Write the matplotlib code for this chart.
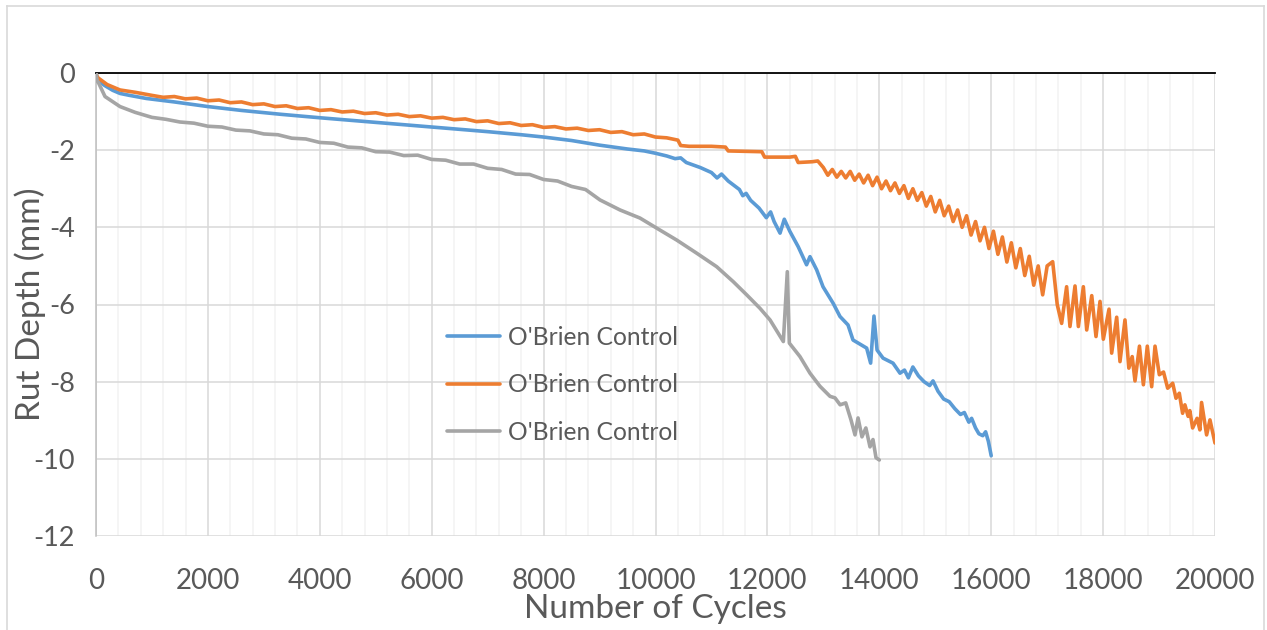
import matplotlib
matplotlib.use("Agg")
import matplotlib.pyplot as plt
from matplotlib.lines import Line2D
from matplotlib.ticker import MultipleLocator

plt.rcParams['font.family'] = ['Lato', 'DejaVu Sans']
plt.rcParams['axes.unicode_minus'] = False

series_labels = ["O'Brien Control", "O'Brien Control", "O'Brien Control"]
series_colors = ["#5B9BD5", "#ED7D31", "#A5A5A5"]

blue_cycles = [0, 20, 50, 150, 300, 430, 600, 900, 1400, 2000, 2600, 3300, 4000, 5000,
               6000, 7000, 7600, 8000, 8500, 9000, 9500, 9800, 10000, 10200, 10350,
               10450, 10550, 10800, 11000, 11100, 11180, 11300, 11500, 11560, 11620,
               11700, 11850, 11980, 12057, 12120, 12226, 12302, 12400, 12550, 12700,
               12761, 12880, 12994, 13176, 13297, 13441, 13530, 13774, 13845, 13905,
               13960, 14067, 14245, 14370, 14450, 14520, 14600, 14700, 14800, 14900,
               14960, 15050, 15150, 15250, 15350, 15450, 15520, 15600, 15650, 15720,
               15780, 15850, 15900, 15950, 16000]
blue_rut = [0, -0.12, -0.2, -0.32, -0.45, -0.53, -0.58, -0.66, -0.75, -0.87, -0.97,
            -1.07, -1.16, -1.28, -1.40, -1.52, -1.60, -1.66, -1.75, -1.87, -1.97,
            -2.02, -2.08, -2.15, -2.22, -2.20, -2.32, -2.45, -2.58, -2.72, -2.62,
            -2.80, -3.02, -3.18, -3.12, -3.30, -3.50, -3.75, -3.60, -3.85, -4.15,
            -3.79, -4.10, -4.50, -4.97, -4.76, -5.10, -5.54, -5.97, -6.31, -6.53,
            -6.92, -7.13, -7.52, -6.30, -7.18, -7.39, -7.52, -7.78, -7.70, -7.90,
            -7.62, -7.85, -8.00, -8.10, -7.98, -8.25, -8.45, -8.52, -8.70, -8.85,
            -8.80, -9.05, -8.95, -9.20, -9.35, -9.40, -9.30, -9.55, -9.92]

orange_cycles = [0, 20, 50, 200, 430, 700, 1000, 1200, 1400, 1600, 1800, 2000, 2200,
                 2400, 2600, 2800, 3000, 3200, 3400, 3600, 3800, 4000, 4200, 4400, 4600,
                 4800, 5000, 5200, 5400, 5600, 5800, 6000, 6200, 6400, 6600, 6800, 7000,
                 7200, 7400, 7600, 7800, 8000, 8200, 8400, 8600, 8800, 9000, 9200, 9400,
                 9600, 9800, 10000, 10200, 10400, 10450, 10600, 11000, 11250, 11300,
                 11900, 11950, 12400, 12500, 12550, 12800, 12900, 13000,
                 13080, 13160, 13240, 13320, 13400, 13480, 13560, 13640, 13720, 13800,
                 13880, 13960, 14040, 14120, 14200, 14280, 14360, 14440, 14520, 14600,
                 14680, 14760, 14840, 14920, 15000, 15080, 15160, 15240, 15320, 15400,
                 15480, 15560, 15640, 15720, 15800, 15880, 15960, 16040, 16120, 16200,
                 16280, 16360, 16440, 16520, 16600, 16680, 16760, 16840, 16920, 17000,
                 17099, 17180, 17259, 17348, 17408, 17498, 17558, 17647, 17707, 17797,
                 17873, 17945, 18004, 18106, 18153, 18243, 18302, 18391, 18460, 18520,
                 18570, 18650, 18720, 18790, 18868, 18928, 19005, 19080, 19154, 19244,
                 19303, 19362, 19421, 19462, 19520, 19550, 19600, 19680, 19730, 19760,
                 19850, 19910, 20000]
orange_rut = [0, -0.10, -0.14, -0.30, -0.44, -0.50, -0.58, -0.63, -0.61, -0.67, -0.65,
              -0.72, -0.70, -0.77, -0.75, -0.82, -0.80, -0.87, -0.85, -0.92, -0.90,
              -0.97, -0.95, -1.01, -0.99, -1.05, -1.03, -1.09, -1.07, -1.13, -1.11,
              -1.17, -1.15, -1.21, -1.19, -1.26, -1.24, -1.31, -1.29, -1.36, -1.34,
              -1.41, -1.39, -1.45, -1.43, -1.49, -1.47, -1.54, -1.52, -1.60, -1.58,
              -1.66, -1.68, -1.74, -1.88, -1.90, -1.90, -1.92, -2.02, -2.04, -2.18,
              -2.18, -2.16, -2.32, -2.30, -2.28, -2.45,
              -2.65, -2.50, -2.70, -2.55, -2.72, -2.55, -2.78, -2.62, -2.85, -2.65,
              -2.92, -2.70, -3.00, -2.80, -3.05, -2.85, -3.12, -2.92, -3.25, -3.00,
              -3.30, -3.10, -3.45, -3.20, -3.60, -3.30, -3.70, -3.45, -3.85, -3.55,
              -4.00, -3.70, -4.20, -3.85, -4.35, -4.00, -4.55, -4.10, -4.70, -4.25,
              -4.90, -4.40, -5.05, -4.55, -5.25, -4.75, -5.50, -5.00, -5.75, -5.00,
              -4.89, -6.00, -6.49, -5.54, -6.57, -5.52, -6.57, -5.54, -6.66, -5.77,
              -6.83, -5.92, -6.90, -6.12, -7.26, -6.33, -7.48, -6.40, -7.65, -7.35,
              -7.98, -7.08, -8.08, -7.08, -8.13, -7.08, -7.82, -7.75, -8.17, -8.04,
              -8.43, -8.30, -8.82, -8.60, -8.90, -8.75, -9.20, -8.95, -9.25, -8.54,
              -9.38, -8.99, -9.59]

gray_cycles = [0, 20, 50, 161, 429, 700, 1000, 1250, 1500, 1750, 2000, 2250, 2500, 2750,
               3000, 3250, 3500, 3750, 4000, 4250, 4500, 4750, 5000, 5250, 5500, 5750,
               6000, 6250, 6500, 6750, 7000, 7250, 7500, 7750, 8000, 8250, 8500, 8750,
               9008, 9366, 9723, 10021, 10379, 10736, 11093, 11391,
               11630, 11868, 12047, 12285, 12356, 12392, 12582, 12761, 12940, 13119,
               13208, 13300, 13400, 13494, 13566, 13620, 13690, 13760, 13834, 13887,
               13941, 14000]
gray_rut = [0, -0.20, -0.27, -0.61, -0.87, -1.02, -1.15, -1.20, -1.27, -1.30, -1.38,
            -1.40, -1.48, -1.50, -1.58, -1.60, -1.69, -1.71, -1.80, -1.82, -1.92, -1.94,
            -2.04, -2.05, -2.14, -2.13, -2.24, -2.26, -2.36, -2.36, -2.47, -2.50, -2.62,
            -2.63, -2.76, -2.80, -2.94, -3.02, -3.29, -3.55, -3.76, -4.02, -4.33,
            -4.67, -5.02, -5.41, -5.75, -6.10, -6.40, -6.96, -5.15, -7.00, -7.35, -7.78,
            -8.12, -8.38, -8.42, -8.60, -8.55, -8.99, -9.38, -8.94, -9.43, -9.20, -9.69,
            -9.50, -9.97, -10.03]

x_ticks = [0, 2000, 4000, 6000, 8000, 10000, 12000, 14000, 16000, 18000, 20000]
y_ticks = [0, -2, -4, -6, -8, -10, -12]

W, H = 1267, 630
fig = plt.figure(figsize=(W / 100, H / 100), dpi=100)
ax_w = (1215 - 96) / W
ax = fig.add_axes([96 / W, 1 - 536 / H, ax_w, (536 - 73) / H])

for xs, ys, c, lab in zip([blue_cycles, orange_cycles, gray_cycles],
                          [blue_rut, orange_rut, gray_rut],
                          series_colors, series_labels):
    ax.plot(xs, ys, color=c, lw=2.6, label=lab, solid_joinstyle='round',
            solid_capstyle='round', zorder=3)

ax.set_xlim(0, 20000)
ax.set_ylim(-12, 0)
ax.set_xticks(x_ticks)
ax.set_yticks(y_ticks)
ax.set_yticklabels([str(v) for v in y_ticks])
ax.xaxis.set_minor_locator(MultipleLocator(400))
ax.grid(True, which='major', color='#D9D9D9', lw=1.1, zorder=0)
ax.grid(True, which='minor', axis='x', color='#F2F2F2', lw=1.1, zorder=0)
ax.set_axisbelow(True)

ax.tick_params(which='both', length=0)
ax.tick_params(axis='x', pad=23, labelsize=20, labelcolor='#595959')
ax.tick_params(axis='y', pad=15, labelsize=19.5, labelcolor='#595959')

for side in ['right', 'bottom']:
    ax.spines[side].set_visible(False)
ax.spines['left'].set_color('#BFBFBF')
ax.spines['left'].set_linewidth(1.1)
ax.spines['top'].set_color('#000000')
ax.spines['top'].set_linewidth(1.3)

ax.set_xlabel('Number of Cycles', fontsize=24, color='#595959', labelpad=0)
ax.set_ylabel('Rut Depth (mm)', fontsize=24, color='#595959')
ax.yaxis.set_label_coords((46 - 96) / (1215 - 96), 0.5)

ax.legend(loc='upper left', bbox_to_anchor=((441 - 96) / (1215 - 96) - 0.003, 1 - (316 - 73) / (536 - 73)),
          frameon=False, fontsize=17.7, labelcolor='#595959', handlelength=2.15,
          handletextpad=0.3, labelspacing=1.0, borderaxespad=0)

# chart-area border
bc = '#D9D9D9'
fig.add_artist(Line2D([7 / W, 7 / W], [0, 1 - 6 / H], color=bc, lw=1.2))
fig.add_artist(Line2D([7 / W, 1264 / W], [1 - 6 / H, 1 - 6 / H], color=bc, lw=1.2))
fig.add_artist(Line2D([1264 / W, 1264 / W], [0, 1 - 6 / H], color=bc, lw=1.2))

fig.savefig('out.png', dpi=100)
